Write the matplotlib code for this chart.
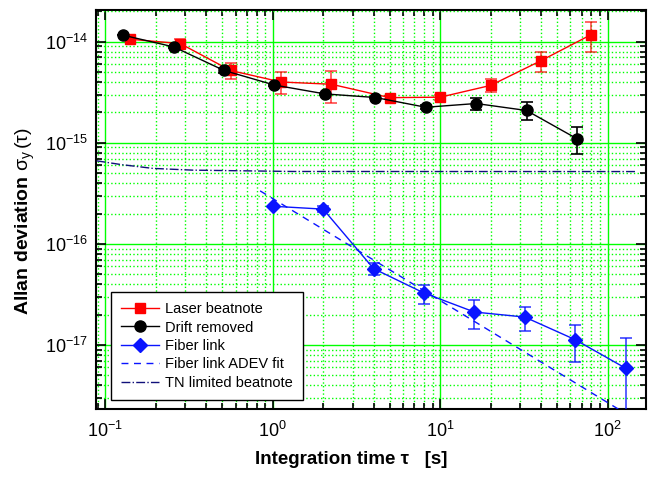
import numpy as np
import matplotlib
matplotlib.use("Agg")
import matplotlib.pyplot as plt
import matplotlib.ticker as ticker

plt.rcParams['font.family'] = ['Liberation Sans', 'DejaVu Sans']
plt.rcParams['mathtext.fontset'] = 'custom'
plt.rcParams['mathtext.rm'] = 'Liberation Sans'
plt.rcParams['mathtext.it'] = 'Liberation Sans:italic'
plt.rcParams['mathtext.bf'] = 'Liberation Sans:bold'

# Laser beatnote (red squares)
laser_tau = [0.14, 0.28, 0.56, 1.12, 2.24, 5.0, 10.0, 20.0, 40.0, 80.0]
laser_adev = [1.06e-14, 9.6e-15, 5.2e-15, 4.0e-15, 3.8e-15, 2.8e-15, 2.83e-15, 3.7e-15, 6.5e-15, 1.18e-14]
laser_hi = [1.06e-14, 1.07e-14, 6.19e-15, 4.98e-15, 5.13e-15, 2.9e-15, 2.95e-15, 4.24e-15, 7.85e-15, 1.58e-14]
laser_lo = [1.06e-14, 8.73e-15, 4.27e-15, 3.03e-15, 2.47e-15, 2.7e-15, 2.65e-15, 3.15e-15, 4.98e-15, 7.85e-15]

# Drift removed (black circles)
drift_tau = [0.128, 0.256, 0.512, 1.024, 2.048, 4.1, 8.2, 16.4, 32.8, 65.5]
drift_adev = [1.16e-14, 8.9e-15, 5.2e-15, 3.73e-15, 3.05e-15, 2.81e-15, 2.25e-15, 2.45e-15, 2.09e-15, 1.10e-15]
drift_hi = [1.16e-14, 9.1e-15, 5.5e-15, 3.8e-15, 3.1e-15, 2.85e-15, 2.35e-15, 2.79e-15, 2.53e-15, 1.44e-15]
drift_lo = [1.16e-14, 8.7e-15, 4.9e-15, 3.65e-15, 3.0e-15, 2.77e-15, 2.15e-15, 2.11e-15, 1.67e-15, 7.67e-16]

# Fiber link (blue diamonds)
fiber_tau = [1, 2, 4, 8, 16, 32, 64, 128]
fiber_adev = [2.36e-16, 2.21e-16, 5.7e-17, 3.27e-17, 2.12e-17, 1.89e-17, 1.13e-17, 5.9e-18]
fiber_hi = [2.4e-16, 2.38e-16, 6.49e-17, 3.96e-17, 2.82e-17, 2.38e-17, 1.59e-17, 1.17e-17]
fiber_lo = [2.3e-16, 2.05e-16, 4.9e-17, 2.57e-17, 1.45e-17, 1.39e-17, 6.79e-18, 1e-19]

# Fiber link ADEV fit (dashed)
fit_tau = [0.84, 116.0]
fit_adev = [3.35e-16, 2.32e-18]

# TN limited beatnote (dash-dot)
tn_tau = [0.0887, 0.124, 0.192, 0.333, 1.32, 146.0]
tn_adev = [6.64e-16, 6.1e-16, 5.59e-16, 5.37e-16, 5.21e-16, 5.2e-16]

RED = '#ff0000'
BLUE = '#0a14ff'
NAVY = '#10107a'
GREEN = '#00ff00'

fig = plt.figure(figsize=(6.49, 4.78), dpi=100)
ax = fig.add_axes([0.148, 0.145, 0.847, 0.834])
ax.set_xscale('log')
ax.set_yscale('log')
ax.set_xlim(0.088, 169)
ax.set_ylim(10**-17.63, 10**-13.686)

# grid
ax.grid(True, which='major', color=GREEN, linestyle='-', linewidth=1.0)
ax.grid(True, which='minor', color=GREEN, linestyle=':', linewidth=1.0)
ax.set_axisbelow(True)


def errs(v, lo, hi):
    v = np.array(v); lo = np.array(lo); hi = np.array(hi)
    return [v - lo, hi - v]


ax.errorbar(laser_tau, laser_adev, yerr=errs(laser_adev, laser_lo, laser_hi), fmt='none',
            ecolor=RED, alpha=0.7, elinewidth=1.2, capsize=4, capthick=1.2, zorder=3)
ax.errorbar(drift_tau, drift_adev, yerr=errs(drift_adev, drift_lo, drift_hi), fmt='none',
            ecolor='black', elinewidth=1.2, capsize=4, capthick=1.2, zorder=3)
ax.errorbar(fiber_tau, fiber_adev, yerr=errs(fiber_adev, fiber_lo, fiber_hi), fmt='none',
            ecolor=BLUE, alpha=0.8, elinewidth=1.2, capsize=4, capthick=1.2, zorder=3)

ax.plot(fit_tau, fit_adev, color=BLUE, linestyle=(0, (5, 4)), linewidth=1.0, zorder=4,
        label='Fiber link ADEV fit')
ax.plot(tn_tau, tn_adev, color=NAVY, linestyle='-.', linewidth=1.0, zorder=4,
        label='TN limited beatnote')

ax.plot(laser_tau, laser_adev, color=RED, marker='s', markersize=7, linewidth=1.0,
        zorder=5, label='Laser beatnote')
ax.plot(drift_tau, drift_adev, color='black', marker='o', markersize=8, linewidth=1.0,
        zorder=5, label='Drift removed')
ax.plot(fiber_tau, fiber_adev, color=BLUE, marker='D', markersize=7, linewidth=1.0,
        zorder=5, label='Fiber link')

handles, labels = ax.get_legend_handles_labels()
order = [2, 3, 4, 0, 1]
leg = ax.legend([handles[i] for i in order], [labels[i] for i in order],
                loc='lower left', bbox_to_anchor=(0.027, 0.022), fontsize=10.5,
                frameon=True, fancybox=False, framealpha=1, edgecolor='black',
                handlelength=2.6, handletextpad=0.4, labelspacing=0.3,
                borderpad=0.7, borderaxespad=0)
leg.get_frame().set_linewidth(1.0)

# ticks
ax.tick_params(which='both', direction='in', top=True, right=True, labelsize=13, width=1.2)
ax.tick_params(which='major', length=7)
ax.tick_params(which='minor', length=4)
ax.xaxis.set_major_locator(ticker.LogLocator(base=10, numticks=20))
ax.xaxis.set_minor_locator(ticker.LogLocator(base=10, subs=np.arange(2, 10), numticks=20))
ax.yaxis.set_major_locator(ticker.LogLocator(base=10, numticks=20))
ax.yaxis.set_minor_locator(ticker.LogLocator(base=10, subs=np.arange(2, 10), numticks=20))
ax.xaxis.set_minor_formatter(ticker.NullFormatter())
ax.yaxis.set_minor_formatter(ticker.NullFormatter())
ax.tick_params(axis='x', pad=9)
ax.tick_params(axis='y', pad=6)
for s in ax.spines.values():
    s.set_linewidth(1.5)

ax.set_xlabel('Integration time \u03c4   [s]', fontsize=13.5, fontweight='bold')
ax.set_ylabel(r'Allan deviation $\mathrm{\sigma_y\,(\tau)}$', fontsize=14,
              fontweight='bold')
ax.xaxis.set_label_coords(0.465, -0.106)
ax.yaxis.set_label_coords(-0.107, 0.47)

fig.savefig('out.png', dpi=100)
